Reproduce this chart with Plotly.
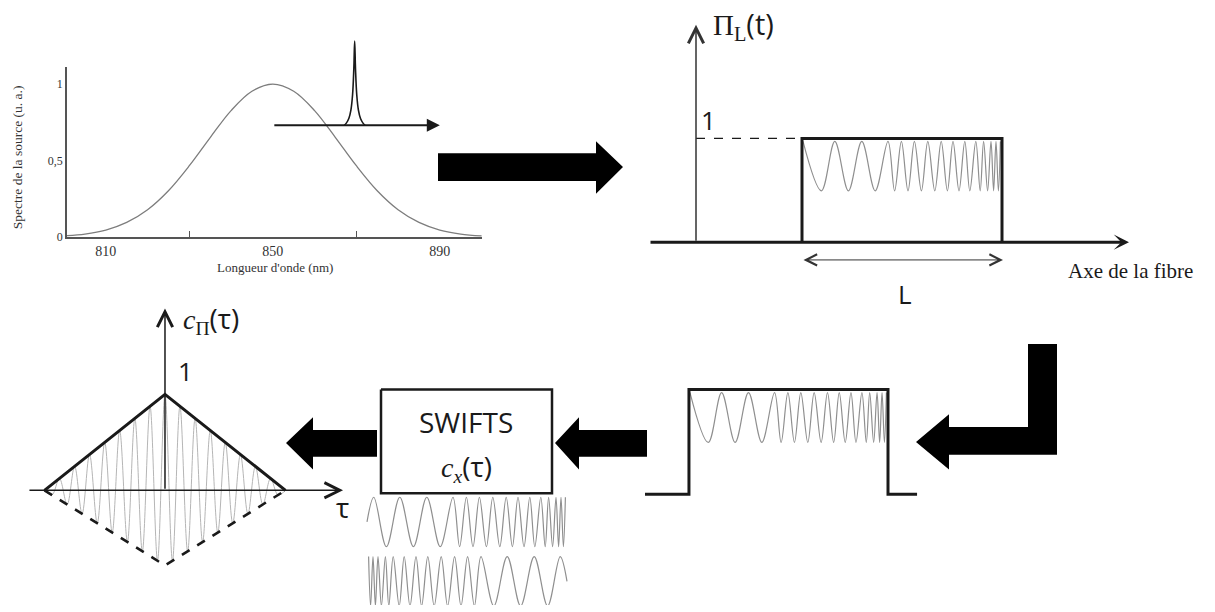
import plotly.graph_objects as go

W, H = 1215, 612

# ---- values ----
# source spectrum (top-left panel)
wavelength_nm = [800, 805, 810, 815, 820, 825, 830, 835, 840, 845, 850,
                 855, 860, 865, 870, 875, 880, 885, 890, 895, 900]
spectrum_ua = [0.009, 0.021, 0.047, 0.097, 0.180, 0.304, 0.467, 0.651, 0.827, 0.953, 1.0,
               0.953, 0.827, 0.651, 0.467, 0.304, 0.180, 0.097, 0.047, 0.021, 0.009]
wl_tick_vals = [810, 850, 890]
wl_minor_ticks = [830, 870]
spec_tick_vals = [0, 0.5, 1]
spec_tick_text = ['0', '0,5', '1']

# narrow line swept across the spectrum
line_center_nm = 869.6
line_offset_nm = [-2.5, -2.0, -1.4, -0.9, -0.5, -0.2, 0.0, 0.2, 0.5, 0.9, 1.4, 2.0, 2.5]
line_level = [0.731, 0.745, 0.775, 0.83, 0.93, 1.10, 1.28, 1.10, 0.93, 0.83, 0.775, 0.745, 0.731]
sweep_nm = [850, 890]

# chirped fringes: positions of successive max / min across the window (0..1)
chirp_extrema = [0.034, 0.097, 0.164, 0.232, 0.299, 0.366, 0.430, 0.463, 0.497, 0.530,
                 0.562, 0.597, 0.629, 0.664, 0.696, 0.727, 0.755, 0.785, 0.814, 0.839,
                 0.869, 0.891, 0.908, 0.928, 0.945, 0.958, 0.970, 0.982, 0.992]

# correlation c_Pi(tau): fringe max / min positions on tau >= 0 (peak at tau = 0)
corr_extrema = [0.0, 0.062, 0.124, 0.188, 0.25, 0.312, 0.376, 0.438, 0.5,
                0.562, 0.626, 0.688, 0.75, 0.812, 0.876, 0.938, 1.0]
corr_low = -0.784  # depth of the dashed lower envelope

INK = '#1a1a1a'
GREY = '#8f8f8f'
SANS = 'Open Sans'
SERIF = 'Liberation Serif'


def xdom(left, right):
    return [left / W, right / W]


def ydom(top, bottom):
    return [1 - bottom / H, 1 - top / H]


def alternate(xs, hi, lo):
    return list(xs), [hi if i % 2 == 0 else lo for i in range(len(xs))]


def line(x, y, ax, color=INK, width=3, dash=None, shape='linear'):
    return go.Scatter(x=x, y=y, mode='lines', xaxis='x' + ax, yaxis='y' + ax,
                      line=dict(color=color, width=width, dash=dash, shape=shape),
                      hoverinfo='skip', showlegend=False)


def arrow(ax, x0, y0, x1, y1, head, width, size, color=INK, both=False):
    return dict(x=x1, y=y1, ax=x0, ay=y0, xref='x' + ax, yref='y' + ax,
                axref='x' + ax, ayref='y' + ax, text='', showarrow=True,
                arrowhead=head, arrowwidth=width, arrowsize=size, arrowcolor=color,
                arrowside='end+start' if both else 'end',
                startarrowhead=head, startarrowsize=size)


def label(ax, x, y, text, size, family=SANS, color=INK, **kw):
    return dict(x=x, y=y, xref='x' + ax, yref='y' + ax, text=text, showarrow=False,
                font=dict(family=family, size=size, color=color), **kw)


def block(points):
    path = 'M ' + ' L '.join(f'{x},{y}' for x, y in points) + ' Z'
    return dict(type='path', path=path, xref='x7', yref='y7',
                fillcolor='black', line=dict(width=0), layer='above')


fig = go.Figure()

# spectrum panel
fig.add_trace(go.Scatter(x=wavelength_nm, y=spectrum_ua, mode='lines',
                         line=dict(color='#7d7d7d', width=1.3, shape='spline'),
                         hoverinfo='skip', showlegend=False))
fig.add_trace(line([line_center_nm + d for d in line_offset_nm], line_level, '2',
                   width=1.6, shape='spline'))

# pulse Pi_L(t) with chirped fringes (top right)
px, py = alternate([0.005] + chirp_extrema[1:], 0.971, 0.495)
fig.add_trace(line(px, py, '3', color=GREY, width=1.2, shape='spline'))
fig.add_trace(line([-0.53, 0], [1, 1], '3', width=1.2, dash='dash'))
fig.add_trace(line([0, 0, 1, 1], [0, 1, 1, 0], '3', width=3))

# same pulse, after the fibre (bottom right)
fig.add_trace(line(px, py, '4', color=GREY, width=1.2, shape='spline'))
fig.add_trace(line([-0.221, 0, 0, 1, 1, 1.146], [0, 0, 1, 1, 0, 0], '4', width=3))

# fringes under the SWIFTS box: chirp and its mirror
r1x, r1y = alternate(chirp_extrema, 1, 0)
r1x, r1y = [0.0] + r1x, [0.5] + r1y
fig.add_trace(line(r1x, r1y, '5', color=GREY, width=1.2, shape='spline'))
fig.add_trace(line([1 - v for v in r1x], [v - 1.2 for v in r1y], '5',
                   color=GREY, width=1.2, shape='spline'))

# correlation triangle
cx_right, cy_sign = alternate(corr_extrema, 1, -1)
cx = [-v for v in reversed(cx_right)] + cx_right[1:]
cs = list(reversed(cy_sign)) + cy_sign[1:]
cy = [(1 - abs(x)) * (1 if s > 0 else corr_low) for x, s in zip(cx, cs)]
fig.add_trace(line(cx, cy, '6', color='#b5b5b5', width=1, shape='spline'))
fig.add_trace(line([-1, 0, 1], [0, corr_low, 0], '6', width=2.6, dash='dash'))
fig.add_trace(line([-1, 0, 1], [0, 1, 0], '6', width=3))

# SWIFTS box on the page canvas
fig.add_trace(line([381, 552, 552, 381, 381], [394, 394, 499, 499, 394], '7', width=2.5))

hidden = dict(visible=False, showgrid=False, zeroline=False, fixedrange=True)

fig.update_layout(
    width=W, height=H, margin=dict(l=0, r=0, t=0, b=0),
    paper_bgcolor='white', plot_bgcolor='rgba(0,0,0,0)',
    hovermode=False, showlegend=False,
    xaxis=dict(domain=xdom(67, 482), range=[800.7, 900.1], anchor='y',
               showline=True, linecolor='#555', linewidth=1.5, showgrid=False,
               zeroline=False, tickmode='array', tickvals=wl_tick_vals, ticks='',
               tickfont=dict(family=SERIF, size=14, color='#333'),
               minor=dict(tickmode='array', tickvals=wl_minor_ticks, ticks='inside',
                          ticklen=7, tickwidth=1.2, tickcolor='#555'),
               fixedrange=True),
    yaxis=dict(domain=ydom(68, 240), range=[0, 1.11], anchor='x',
               showline=True, linecolor='#555', linewidth=1.5, showgrid=False,
               zeroline=False, tickmode='array', tickvals=spec_tick_vals,
               ticktext=spec_tick_text, ticks='',
               tickfont=dict(family=SERIF, size=12, color='#333'), fixedrange=True),
    xaxis2=dict(domain=xdom(67, 482), range=[800.7, 900.1], anchor='y2', **hidden),
    yaxis2=dict(domain=ydom(30, 240), range=[0, 1.355], anchor='x2', **hidden),
    xaxis3=dict(domain=xdom(640, 1140), range=[-0.81, 1.69], anchor='y3', **hidden),
    yaxis3=dict(domain=ydom(10, 300), range=[-0.524, 2.238], anchor='x3', **hidden),
    xaxis4=dict(domain=xdom(640, 930), range=[-0.246, 1.211], anchor='y4', **hidden),
    yaxis4=dict(domain=ydom(385, 505), range=[-0.047, 1.085], anchor='x4', **hidden),
    xaxis5=dict(domain=xdom(360, 575), range=[-0.035, 1.04], anchor='y5', **hidden),
    yaxis5=dict(domain=ydom(495, 612), range=[-1.18, 1.16], anchor='x5', **hidden),
    xaxis6=dict(domain=xdom(20, 350), range=[-1.203, 1.535], anchor='y6', **hidden),
    yaxis6=dict(domain=ydom(300, 585), range=[-0.918, 2.021], anchor='x6', **hidden),
    xaxis7=dict(domain=[0, 1], range=[0, W], anchor='y7', **hidden),
    yaxis7=dict(domain=[0, 1], range=[H, 0], anchor='x7', **hidden),
)

annotations = [
    # spectrum panel titles (placed on the page canvas so they are not hidden off-range)
    label('7', 275, 271, "Longueur d'onde (nm)", 13, SERIF, '#333'),
    label('7', 17, 159, 'Spectre de la source (u. a.)', 13.5, SERIF, '#333', textangle=-90),
    arrow('2', sweep_nm[0], line_level[0], sweep_nm[1], line_level[0], 2, 2, 1.3),
    # Pi_L(t) panel
    arrow('3', -0.765, 0, 1.635, 0, 3, 3, 0.85),
    arrow('3', -0.53, 0, -0.53, 2.095, 5, 1.5, 2, color='#333'),
    arrow('3', 0, -0.171, 1.005, -0.171, 5, 1, 2.2, color='#333', both=True),
    label('3', -0.295, 2.095,
          f"<span style='font-family:{SERIF}'>Π<sub>L</sub></span>(t)", 29),
    label('3', -0.47, 1.181, '1', 26),
    label('3', 0.515, -0.495, 'L', 26),
    label('3', 1.64, -0.276, 'Axe de la fibre', 21, SERIF),
    # correlation panel
    arrow('6', -1.137, 0, 1.477, 0, 5, 1.5, 2),
    arrow('6', 0, 0, 0, 1.897, 5, 1.5, 2),
    label('6', 0.382, 1.784,
          f"<span style='font-family:{SERIF}'><i>c</i><sub>Π</sub></span>(τ)", 28),
    label('6', 0.166, 1.247, '1', 26),
    label('6', 1.469, -0.175, 'τ', 28),
    # SWIFTS box
    label('7', 466, 427, 'SWIFTS', 28),
    label('7', 466, 472,
          f"<span style='font-family:{SERIF}'><i>c<sub>x</sub></i></span>(τ)", 28),
]
fig.update_layout(annotations=annotations)

fig.update_layout(shapes=[
    block([(438, 155), (596, 155), (596, 143), (623, 169), (596, 196), (596, 183), (438, 183)]),
    block([(1028, 348), (1057, 348), (1057, 460), (949, 460), (949, 475), (916, 447),
           (949, 419), (949, 432), (1028, 432)]),
    block([(647, 435), (579, 435), (579, 422), (555, 448), (579, 475), (579, 462), (647, 462)]),
    block([(377, 435), (313, 435), (313, 422), (286, 448), (313, 475), (313, 462), (377, 462)]),
])

fig.write_html("out.html", config={'displayModeBar': False},
               post_script="document.body.style.margin = '0';")
